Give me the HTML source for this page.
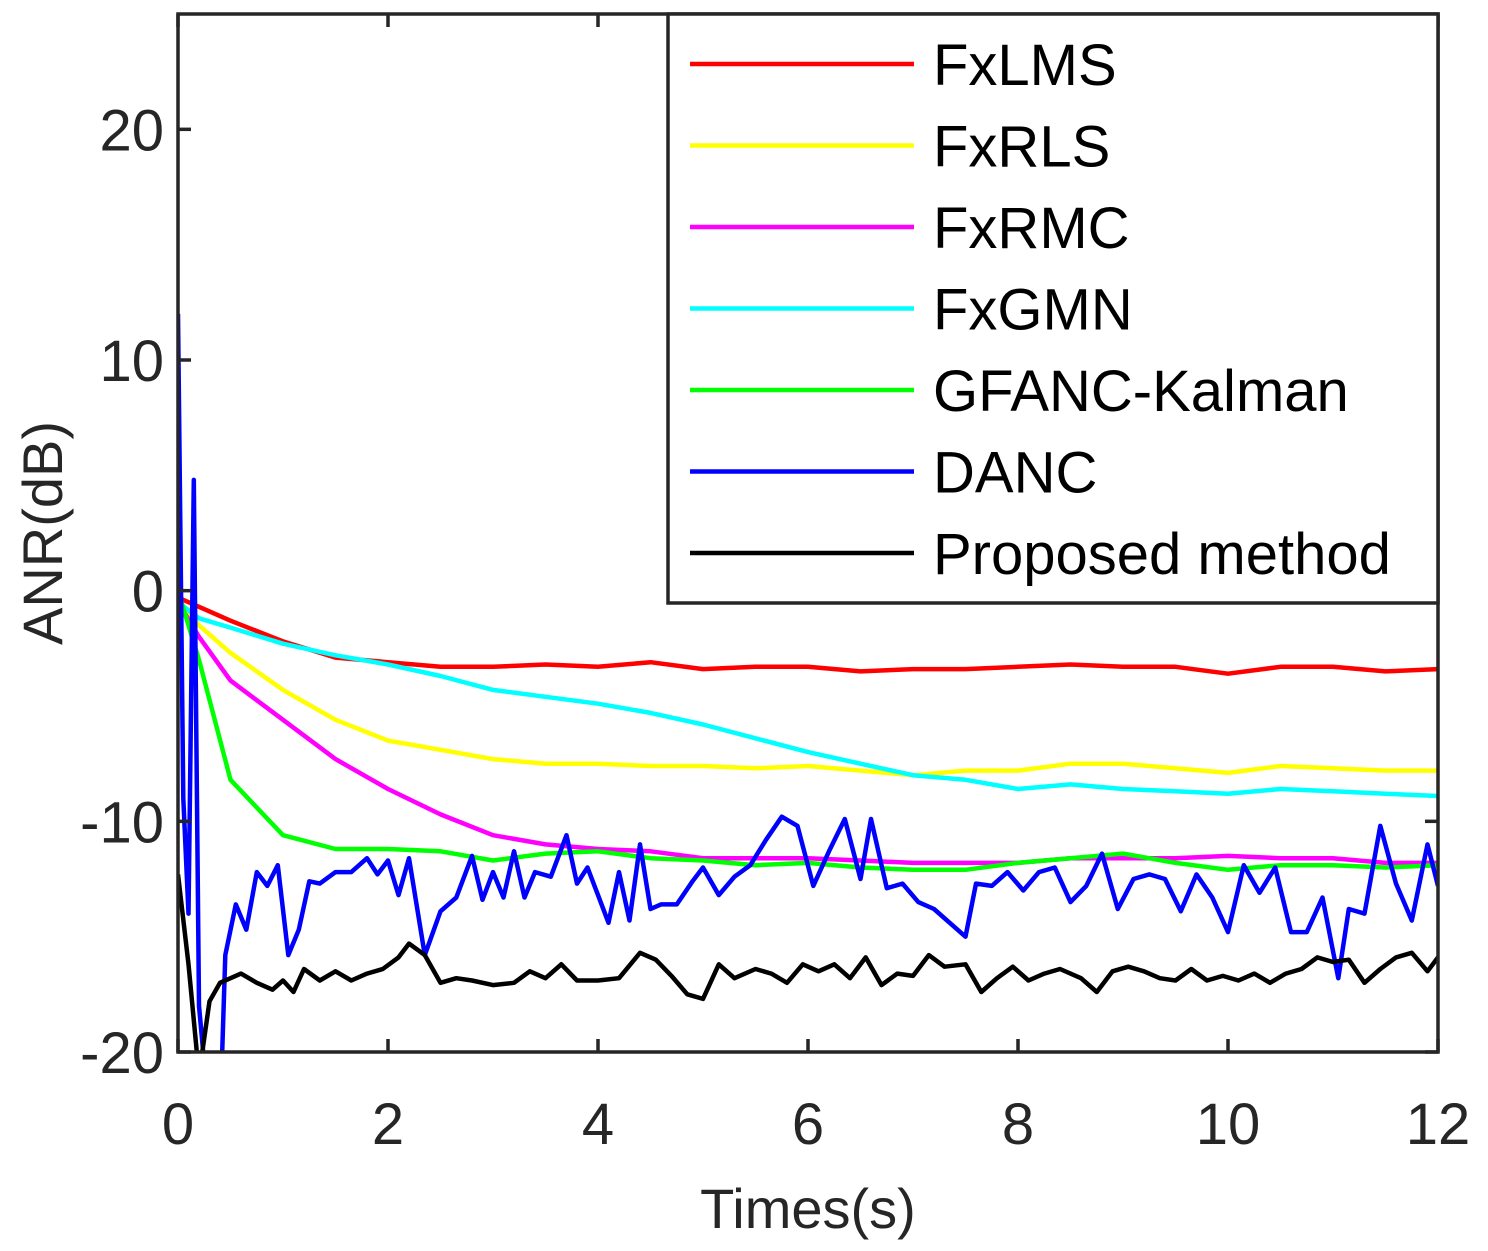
<!DOCTYPE html>
<html><head><meta charset="utf-8">
<style>
html,body{margin:0;padding:0;background:#fff;}
svg{display:block;font-family:"Liberation Sans",Arial,sans-serif;}
</style></head>
<body>
<svg id="chart" width="1488" height="1251" viewBox="0 0 1488 1251" xmlns="http://www.w3.org/2000/svg">
<defs><clipPath id="plotclip"><rect x="178" y="14" width="1260" height="1038"/></clipPath></defs>
<rect x="0" y="0" width="1488" height="1251" fill="#fff"/>
<g id="series" clip-path="url(#plotclip)"></g>
<g id="axes"></g>
<g id="legend"></g>
</svg>
<script>
const xTicks = [0, 2, 4, 6, 8, 10, 12];
const yTicks = [-20, -10, 0, 10, 20];
const seriesNames = ["FxLMS", "FxRLS", "FxRMC", "FxGMN", "GFANC-Kalman", "DANC", "Proposed method"];
const seriesColors = ["#ff0000", "#ffff00", "#ff00ff", "#00ffff", "#00ff00", "#0000ff", "#000000"];

const tSmooth = [0,0.2,0.5,1,1.5,2,2.5,3,3.5,4,4.5,5,5.5,6,6.5,7,7.5,8,8.5,9,9.5,10,10.5,11,11.5,12];
const fxlms = [-0.3,-0.7,-1.3,-2.2,-2.9,-3.1,-3.3,-3.3,-3.2,-3.3,-3.1,-3.4,-3.3,-3.3,-3.5,-3.4,-3.4,-3.3,-3.2,-3.3,-3.3,-3.6,-3.3,-3.3,-3.5,-3.4];
const fxrls = [-0.5,-1.5,-2.7,-4.3,-5.6,-6.5,-6.9,-7.3,-7.5,-7.5,-7.6,-7.6,-7.7,-7.6,-7.8,-8.0,-7.8,-7.8,-7.5,-7.5,-7.7,-7.9,-7.6,-7.7,-7.8,-7.8];
const fxrmc = [-0.5,-2.0,-3.9,-5.6,-7.3,-8.6,-9.7,-10.6,-11.0,-11.2,-11.3,-11.6,-11.6,-11.6,-11.7,-11.8,-11.8,-11.8,-11.6,-11.6,-11.6,-11.5,-11.6,-11.6,-11.8,-11.8];
const fxgmn = [-0.5,-1.2,-1.6,-2.3,-2.8,-3.2,-3.7,-4.3,-4.6,-4.9,-5.3,-5.8,-6.4,-7.0,-7.5,-8.0,-8.2,-8.6,-8.4,-8.6,-8.7,-8.8,-8.6,-8.7,-8.8,-8.9];
const gfanc = [0,-3.0,-8.2,-10.6,-11.2,-11.2,-11.3,-11.7,-11.4,-11.3,-11.6,-11.7,-11.9,-11.8,-12.0,-12.1,-12.1,-11.8,-11.6,-11.4,-11.8,-12.1,-11.9,-11.9,-12.0,-11.9];

const tDanc = [0,0.05,0.1,0.15,0.2,0.3,0.4,0.45,0.55,0.65,0.75,0.85,0.95,1.05,1.15,1.25,1.35,1.5,1.65,1.8,1.9,2.0,2.1,2.2,2.35,2.5,2.65,2.8,2.9,3.0,3.1,3.2,3.3,3.4,3.55,3.7,3.8,3.9,4.0,4.1,4.2,4.3,4.4,4.5,4.6,4.75,4.9,5.0,5.15,5.3,5.45,5.6,5.75,5.9,6.05,6.2,6.35,6.5,6.6,6.75,6.9,7.05,7.2,7.35,7.5,7.6,7.75,7.9,8.05,8.2,8.35,8.5,8.65,8.8,8.95,9.1,9.25,9.4,9.55,9.7,9.85,10.0,10.15,10.3,10.45,10.6,10.75,10.9,11.05,11.15,11.3,11.45,11.6,11.75,11.9,12.0];
const danc = [12,-9,-14,4.8,-18,-23,-23,-15.8,-13.6,-14.7,-12.2,-12.8,-11.9,-15.8,-14.7,-12.6,-12.7,-12.2,-12.2,-11.6,-12.3,-11.7,-13.2,-11.6,-15.8,-13.9,-13.3,-11.5,-13.4,-12.2,-13.3,-11.3,-13.3,-12.2,-12.4,-10.6,-12.7,-12.0,-13.2,-14.4,-12.2,-14.3,-11.0,-13.8,-13.6,-13.6,-12.6,-12.0,-13.2,-12.4,-11.9,-10.8,-9.8,-10.2,-12.8,-11.3,-9.9,-12.5,-9.9,-12.9,-12.7,-13.5,-13.8,-14.4,-15.0,-12.7,-12.8,-12.2,-13.0,-12.2,-12.0,-13.5,-12.8,-11.4,-13.8,-12.5,-12.3,-12.5,-13.9,-12.3,-13.3,-14.8,-11.9,-13.1,-12.0,-14.8,-14.8,-13.3,-16.8,-13.8,-14.0,-10.2,-12.7,-14.3,-11.0,-12.8];

const tProp = [0,0.1,0.2,0.3,0.4,0.5,0.6,0.75,0.9,1.0,1.1,1.2,1.35,1.5,1.65,1.8,1.95,2.1,2.2,2.35,2.5,2.65,2.8,3.0,3.2,3.35,3.5,3.65,3.8,4.0,4.2,4.4,4.55,4.7,4.85,5.0,5.15,5.3,5.5,5.65,5.8,5.95,6.1,6.25,6.4,6.55,6.7,6.85,7.0,7.15,7.3,7.5,7.65,7.8,7.95,8.1,8.25,8.4,8.6,8.75,8.9,9.05,9.2,9.35,9.5,9.65,9.8,9.95,10.1,10.25,10.4,10.55,10.7,10.85,11.0,11.15,11.3,11.45,11.6,11.75,11.9,12.0];
const proposed = [-12.3,-16.2,-21,-17.8,-17.0,-16.8,-16.6,-17.0,-17.3,-16.9,-17.4,-16.4,-16.9,-16.5,-16.9,-16.6,-16.4,-15.9,-15.3,-15.8,-17.0,-16.8,-16.9,-17.1,-17.0,-16.5,-16.8,-16.2,-16.9,-16.9,-16.8,-15.7,-16.0,-16.7,-17.5,-17.7,-16.2,-16.8,-16.4,-16.6,-17.0,-16.2,-16.5,-16.2,-16.8,-15.9,-17.1,-16.6,-16.7,-15.8,-16.3,-16.2,-17.4,-16.8,-16.3,-16.9,-16.6,-16.4,-16.8,-17.4,-16.5,-16.3,-16.5,-16.8,-16.9,-16.4,-16.9,-16.7,-16.9,-16.6,-17.0,-16.6,-16.4,-15.9,-16.1,-16.0,-17.0,-16.4,-15.9,-15.7,-16.5,-15.9];

const X0 = 178, X1 = 1438, Y0 = 1052, Y1 = 14;
const xMin = 0, xMax = 12, yMin = -20, yMax = 25;
function xs(v){ return X0 + (v - xMin) / (xMax - xMin) * (X1 - X0); }
function ys(v){ return Y0 - (v - yMin) / (yMax - yMin) * (Y0 - Y1); }

const NS = "http://www.w3.org/2000/svg";
function mk(tag, attrs, parent){
  const e = document.createElementNS(NS, tag);
  for (const k in attrs) e.setAttribute(k, attrs[k]);
  parent.appendChild(e);
  return e;
}
const gS = document.getElementById("series");
const gA = document.getElementById("axes");
const gL = document.getElementById("legend");

const allSeries = [
  [tSmooth, fxlms, "fxlms-line"],
  [tSmooth, fxrls, "fxrls-line"],
  [tSmooth, fxrmc, "fxrmc-line"],
  [tSmooth, fxgmn, "fxgmn-line"],
  [tSmooth, gfanc, "gfanc-kalman-line"],
  [tDanc, danc, "danc-line"],
  [tProp, proposed, "proposed-method-line"]
];
allSeries.forEach(function(s, i){
  const d = s[0].map(function(t, j){ return (j ? "L" : "M") + xs(t).toFixed(1) + "," + ys(s[1][j]).toFixed(1); }).join(" ");
  const p = mk("path", {d: d, fill: "none", stroke: seriesColors[i], "stroke-width": 4.5, "stroke-linejoin": "round"}, gS);
  
  
});

const frame = mk("rect", {x: X0, y: Y1, width: X1 - X0, height: Y0 - Y1, fill: "none", stroke: "#262626", "stroke-width": 3.5}, gA);



xTicks.forEach(function(v){
  const x = xs(v);
  const t1 = mk("line", {x1: x, x2: x, y1: Y0, y2: Y0 - 13, stroke: "#262626", "stroke-width": 3.5}, gA);
  
  
  const t2 = mk("line", {x1: x, x2: x, y1: Y1, y2: Y1 + 13, stroke: "#262626", "stroke-width": 3.5}, gA);
  
  
  const tx = mk("text", {x: x, y: Y0 + 92, "text-anchor": "middle", "font-size": 58, fill: "#262626"}, gA);
  tx.textContent = v;
  
  
});
yTicks.forEach(function(v){
  const y = ys(v);
  const t1 = mk("line", {x1: X0, x2: X0 + 13, y1: y, y2: y, stroke: "#262626", "stroke-width": 3.5}, gA);
  
  
  const t2 = mk("line", {x1: X1, x2: X1 - 13, y1: y, y2: y, stroke: "#262626", "stroke-width": 3.5}, gA);
  
  
  const ty = mk("text", {x: X0 - 14, y: y + 21, "text-anchor": "end", "font-size": 58, fill: "#262626"}, gA);
  ty.textContent = v;
  
  
});
const xl = mk("text", {x: 808, y: 1228, "text-anchor": "middle", "font-size": 56, fill: "#262626"}, gA);
xl.textContent = "Times(s)";


const yl = mk("text", {x: 0, y: 0, "text-anchor": "middle", "font-size": 56, fill: "#262626", transform: "translate(62,533) rotate(-90)"}, gA);
yl.textContent = "ANR(dB)";



const lb = mk("rect", {x: 668, y: 14, width: 770, height: 589, fill: "#fff", stroke: "#262626", "stroke-width": 3.5}, gL);


seriesNames.forEach(function(n, i){
  const y = 64 + i * 81.5;
  const ln = mk("line", {x1: 690, x2: 914, y1: y, y2: y, stroke: seriesColors[i], "stroke-width": 4.5}, gL);
  
  
  const tx = mk("text", {x: 933, y: y + 21, "font-size": 58, fill: "#000"}, gL);
  tx.textContent = n;
  
  
});
</script>
</body></html>
